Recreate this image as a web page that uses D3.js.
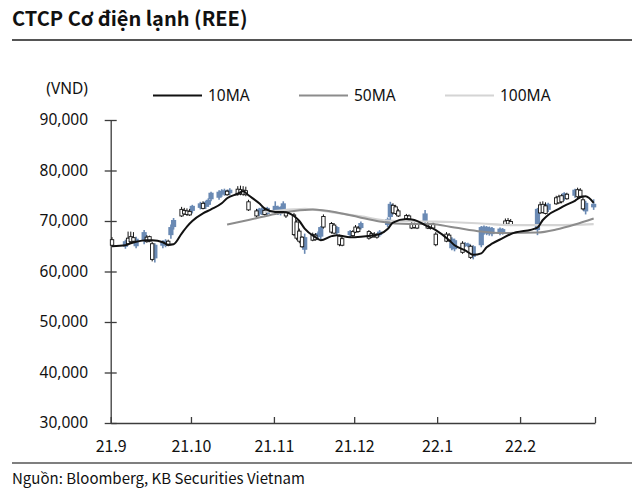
<!DOCTYPE html>
<html><head><meta charset="utf-8">
<script src="https://cdn.jsdelivr.net/npm/d3@7"></script>
<style>body{margin:0;background:#fff} svg{display:block}</style>
</head><body><svg id="c" width="640" height="497"></svg>
<script>
// ---- data ----
const title = "CTCP Cơ điện lạnh (REE)";
const unitLabel = "(VND)";
const sourceText = "Nguồn: Bloomberg, KB Securities Vietnam";
const monthTicks = ["2021-09-01","2021-10-01","2021-11-01","2021-12-01","2022-01-01","2022-02-01","2022-03-01"];
const monthLabels = ["21.9","21.10","21.11","21.12","22.1","22.2",""];
const yTicks = [30000,40000,50000,60000,70000,80000,90000];
const legendNames = ["10MA","50MA","100MA"];

const dates = [
"2021-09-01","2021-09-06","2021-09-07","2021-09-08","2021-09-09","2021-09-10","2021-09-13","2021-09-14","2021-09-15","2021-09-16","2021-09-17","2021-09-20","2021-09-21","2021-09-22","2021-09-23","2021-09-24","2021-09-27","2021-09-28","2021-09-29","2021-09-30",
"2021-10-01","2021-10-04","2021-10-05","2021-10-06","2021-10-07","2021-10-08","2021-10-11","2021-10-12","2021-10-13","2021-10-14","2021-10-15","2021-10-18","2021-10-19","2021-10-20","2021-10-21","2021-10-22","2021-10-25","2021-10-26","2021-10-27","2021-10-28","2021-10-29",
"2021-11-01","2021-11-02","2021-11-03","2021-11-04","2021-11-05","2021-11-08","2021-11-09","2021-11-10","2021-11-11","2021-11-12","2021-11-15","2021-11-16","2021-11-17","2021-11-18","2021-11-19","2021-11-22","2021-11-23","2021-11-24","2021-11-25","2021-11-26","2021-11-29","2021-11-30",
"2021-12-01","2021-12-02","2021-12-03","2021-12-06","2021-12-07","2021-12-08","2021-12-09","2021-12-10","2021-12-13","2021-12-14","2021-12-15","2021-12-16","2021-12-17","2021-12-20","2021-12-21","2021-12-22","2021-12-23","2021-12-24","2021-12-27","2021-12-28","2021-12-29","2021-12-30","2021-12-31",
"2022-01-04","2022-01-05","2022-01-06","2022-01-07","2022-01-10","2022-01-11","2022-01-12","2022-01-13","2022-01-14","2022-01-17","2022-01-18","2022-01-19","2022-01-20","2022-01-21","2022-01-24","2022-01-25","2022-01-26","2022-01-27","2022-01-28",
"2022-02-07","2022-02-08","2022-02-09","2022-02-10","2022-02-11","2022-02-14","2022-02-15","2022-02-16","2022-02-17","2022-02-18","2022-02-21","2022-02-22","2022-02-23","2022-02-24","2022-02-25","2022-02-28"];
const open = [
65200,66000,65500,65900,66000,66500,67800,65900,66000,62400,65300,65900,66100,65200,68800,70200,71000,71400,71300,71200,
73000,73500,72500,73800,74200,75600,75800,76000,76100,75200,76200,75300,75400,75300,75200,72200,71000,72400,72500,71300,72600,
73000,72800,72600,73500,71000,67300,66600,66000,64900,66800,66200,66300,67600,68800,68800,67800,67600,68800,65300,65200,68000,67100,
67800,67900,69600,66600,66800,66900,66800,67900,70400,73400,71600,71500,71000,70300,70200,68600,68700,68600,71500,68600,68500,68600,65300,
66000,66100,66500,66200,63800,65600,65500,62800,65000,68800,68900,68800,68700,68600,68500,68400,69300,69400,69200,
72400,71600,71700,71500,73400,73400,73600,73800,75500,74400,76200,74800,74900,72400,73600,73400];
const high = [
66800,66300,67900,67900,67800,66900,68200,67200,67100,65900,65600,66200,66400,66300,69300,70600,72800,72600,72500,72400,
73200,73800,73900,74000,74500,75800,76100,76300,76400,76200,76500,76900,77000,76900,76800,74200,72400,72600,72700,72400,72800,
73900,73000,72900,73900,72000,71600,70200,68500,67000,67500,67700,67600,67900,69000,71300,69800,69600,69000,67300,66800,68200,68200,
69200,69000,69900,68200,67800,67800,67600,68200,70700,73800,73500,73200,72400,71400,71300,69800,69700,69600,72200,69800,69600,69700,67800,
67800,67600,66800,66500,66000,65800,65700,65300,65200,69000,69100,69000,68900,68800,68700,68600,70500,70600,70400,
72600,73800,73900,73700,73600,75000,75200,75300,75700,75600,76400,76600,76500,75000,74000,74300];
const low = [
64900,64500,65200,65600,65700,64600,65400,65700,65800,62000,61800,64600,64800,65000,66500,68300,70800,71200,71000,71000,
71500,72300,72300,72400,72800,73900,74200,74800,75000,75000,75100,75000,75100,75000,74900,72000,70800,71000,71200,71100,71000,
71400,71200,71100,71600,70600,67000,66200,65600,64700,63500,66000,66100,66300,66400,68500,67500,67400,67300,65000,65000,66800,66900,
67600,67700,68300,66300,66600,66700,66500,66900,68800,70200,71300,71200,70800,70100,70000,68400,68500,68400,69600,68400,68300,68400,65000,
65800,65900,64200,64000,63500,64900,64800,62500,62400,64800,67300,67200,67100,67000,67200,67300,69100,69200,69000,
67200,71400,71500,71300,71800,73200,73400,73500,74000,74200,74600,74500,74600,72100,71300,72200];
const close = [
66300,64900,66600,66900,66700,65000,66000,66800,66900,65500,62600,65100,65300,66000,67200,68800,72300,72100,72000,71900,
72000,72600,73500,72800,73200,74300,74600,75200,75400,75900,75500,76300,76200,76100,76000,73800,72000,71300,71600,72100,71400,
71800,71600,71500,72000,71700,71200,69800,68000,66800,64300,67300,67200,66800,66900,70900,69500,69200,67600,67000,66500,67200,67900,
68800,68600,68600,67900,67500,67400,67300,67200,69200,70800,73100,72800,72000,71100,71000,69500,69400,69300,70000,69400,69300,69400,67400,
67400,67200,64600,64400,65600,65100,65000,65000,62900,65200,67600,67500,67400,67400,67600,67700,70000,70100,69900,
68200,73200,73300,73000,72200,74600,74800,75000,74400,75300,75000,76200,76100,74200,71900,72700];

// moving averages
const ma10Dates = ["2021-09-01","2021-09-06","2021-09-08","2021-09-10","2021-09-14","2021-09-16","2021-09-20","2021-09-22","2021-09-24","2021-09-27","2021-09-29","2021-10-01","2021-10-05","2021-10-08","2021-10-12","2021-10-14","2021-10-18","2021-10-20","2021-10-22","2021-10-26","2021-10-28","2021-11-01","2021-11-04","2021-11-08","2021-11-10","2021-11-12","2021-11-16","2021-11-18","2021-11-22","2021-11-24","2021-11-29","2021-12-03","2021-12-08","2021-12-10","2021-12-13","2021-12-15","2021-12-20","2021-12-23","2021-12-27","2021-12-31","2022-01-05","2022-01-07","2022-01-11","2022-01-14","2022-01-17","2022-01-19","2022-01-21","2022-01-25","2022-01-28","2022-02-07","2022-02-09","2022-02-11","2022-02-15","2022-02-17","2022-02-21","2022-02-23","2022-02-25","2022-02-28"];
const ma10 = [65000,65200,65600,65900,66200,66200,65800,65300,65400,67500,68900,70000,71500,72300,73500,74500,75400,75900,75100,73500,72500,71800,71800,71000,70000,68500,66800,66200,67000,67200,66800,66900,67200,67400,68400,69700,70400,70200,69200,68200,66200,65200,64200,63300,63600,64800,65500,66600,67400,68700,70200,71200,72400,73000,74000,74700,74900,73600];
const ma50Dates = ["2021-10-14","2021-10-22","2021-11-01","2021-11-08","2021-11-15","2021-11-25","2021-12-02","2021-12-10","2021-12-21","2021-12-29","2022-01-07","2022-01-17","2022-01-25","2022-02-07","2022-02-14","2022-02-21","2022-02-28"];
const ma50 = [69300,70200,71400,72000,72300,71600,70800,69900,69400,69400,68700,67900,67600,67700,68300,69300,70500];
const ma100Dates = ["2021-10-28","2021-11-08","2021-11-12","2021-11-24","2021-12-03","2021-12-13","2021-12-27","2022-01-06","2022-01-17","2022-01-28","2022-02-14","2022-02-28"];
const ma100 = [71800,72300,72400,71600,70900,70100,69900,69800,69500,69200,69200,69400];

// ---- drawing ----
const parse = d3.timeParse("%Y-%m-%d");
const mid = s => d3.timeHour.offset(parse(s), 12);
const svg = d3.select("#c");
const x = d3.scaleTime().domain([parse("2021-09-01"), parse("2022-03-01")]).range([110.7, 595]);
const y = d3.scaleLinear().domain([30000, 90000]).range([423, 120]);
const BLUE = "#6a8ab4";
const latin = "'Noto Sans CJK SC','Noto Sans',sans-serif";
const tah = "'Noto Sans','DejaVu Sans',sans-serif";

// title + rules
svg.append("text").attr("x", 12).attr("y", 26).text(title)
  .attr("font-family", latin).attr("font-weight", 700).attr("font-size", 20).attr("fill", "#111");
svg.append("line").attr("x1", 12).attr("x2", 632).attr("y1", 40).attr("y2", 40).attr("stroke", "#555").attr("stroke-width", 2);
svg.append("line").attr("x1", 12).attr("x2", 632).attr("y1", 463).attr("y2", 463).attr("stroke", "#555").attr("stroke-width", 1.5);
svg.append("text").attr("x", 12).attr("y", 484).text(sourceText)
  .attr("font-family", latin).attr("font-size", 15).attr("fill", "#111");

// unit label
svg.append("text").attr("x", 88).attr("y", 94).attr("text-anchor", "end").text(unitLabel)
  .attr("font-family", tah).attr("font-size", 15.5).attr("fill", "#111");

// legend
const legColors = ["#111111", "#8c8c8c", "#d4d4d4"];
const legX = [153, 299, 445];
legendNames.forEach((n, i) => {
  svg.append("line").attr("x1", legX[i]).attr("x2", legX[i] + 49).attr("y1", 95.5).attr("y2", 95.5)
    .attr("stroke", legColors[i]).attr("stroke-width", 2.2);
  svg.append("text").attr("x", legX[i] + 55).attr("y", 101).text(n)
    .attr("font-family", tah).attr("font-size", 15.5).attr("fill", "#111");
});

// axes
const yAxis = svg.append("g").attr("transform", "translate(110.7,0)")
  .call(d3.axisLeft(y).tickValues(yTicks).tickFormat(d3.format(",")).tickSizeInner(6).tickSizeOuter(0).tickPadding(16.7));
yAxis.selectAll(".tick line").attr("x1", 6).attr("x2", -6);
yAxis.selectAll("path, line").attr("stroke", "#3c3c3c").attr("stroke-width", 1.3);
yAxis.selectAll("text").attr("font-family", tah).attr("font-size", 15.5).attr("fill", "#111");

const xAxis = svg.append("g").attr("transform", "translate(0,423)")
  .call(d3.axisBottom(x).tickValues(monthTicks.map(parse))
    .tickFormat((d, i) => monthLabels[i]).tickSizeInner(-6).tickSizeOuter(0).tickPadding(18));
xAxis.selectAll("path, line").attr("stroke", "#3c3c3c").attr("stroke-width", 1.3);
xAxis.selectAll("text").attr("font-family", latin).attr("font-size", 16).attr("fill", "#111");

// candles
const rows = dates.map((d, i) => ({d: mid(d), o: open[i], h: high[i], l: low[i], c: close[i]}));
const gC = svg.append("g");
const drawSet = (set, up) => {
  const g = gC.append("g");
  const w = up ? 3.4 : 5.2;
  g.selectAll("line").data(set).join("line")
    .attr("x1", r => x(r.d)).attr("x2", r => x(r.d))
    .attr("y1", r => y(r.h)).attr("y2", r => y(r.l))
    .attr("stroke", up ? "#111" : BLUE).attr("stroke-width", up ? 1 : 1.6);
  g.selectAll("rect").data(set).join("rect")
    .attr("x", r => x(r.d) - w / 2).attr("width", w)
    .attr("y", r => y(Math.max(r.o, r.c)))
    .attr("height", r => Math.max(1, Math.abs(y(r.o) - y(r.c))))
    .attr("fill", up ? "#fff" : BLUE)
    .attr("stroke", up ? "#111" : "none").attr("stroke-width", 0.9);
};
drawSet(rows.filter(r => r.c < r.o), false);
drawSet(rows.filter(r => r.c >= r.o), true);

// moving averages
const lineGen = d3.line().x(p => x(mid(p[0]))).y(p => y(p[1])).curve(d3.curveMonotoneX);
const drawMA = (ds, vs, col, w) => svg.append("path")
  .attr("d", lineGen(ds.map((d, i) => [d, vs[i]])))
  .attr("fill", "none").attr("stroke", col).attr("stroke-width", w);
drawMA(ma100Dates, ma100, "#d4d4d4", 2.2);
drawMA(ma50Dates, ma50, "#8c8c8c", 2);
drawMA(ma10Dates, ma10, "#111111", 2);
</script></body></html>
